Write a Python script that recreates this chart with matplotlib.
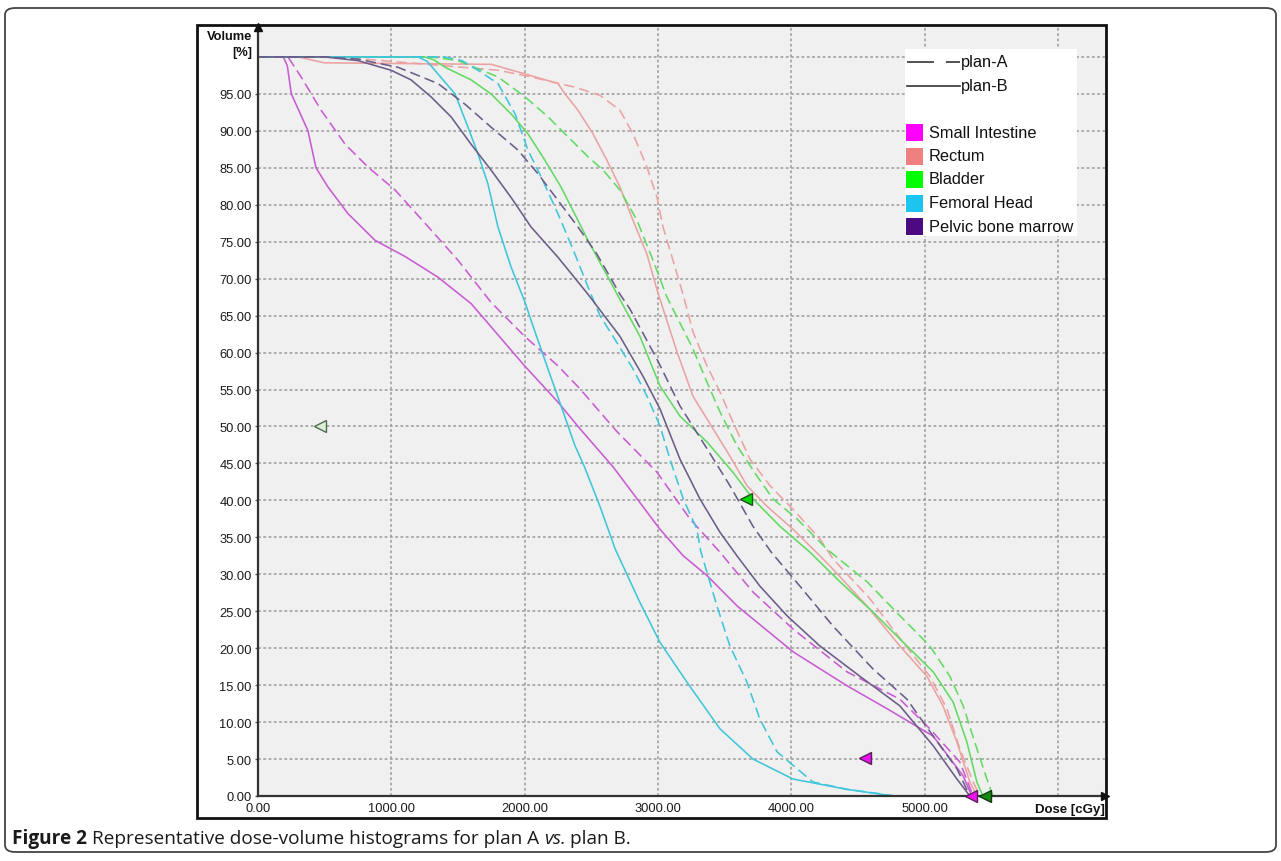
import matplotlib
matplotlib.use('Agg')
import matplotlib.pyplot as plt
from matplotlib.patches import Rectangle, FancyBboxPatch
from matplotlib.lines import Line2D

plt.rcParams['font.family'] = ['Liberation Sans', 'DejaVu Sans']
plt.rcParams['lines.scale_dashes'] = False

W, H = 1281, 862

# ---------------- data (dose in cGy, volume in %) ----------------
structures = ['Small Intestine', 'Rectum', 'Bladder', 'Femoral Head', 'Pelvic bone marrow']
legend_colors = ['#ff00ff', '#f08080', '#00ff00', '#1cc4f0', '#4b0a82']
line_colors = ['#c95bd3', '#eba2a2', '#62da62', '#3fc6da', '#6b5c88']
plan_names = ['plan-A', 'plan-B']

si_a_dose = [0, 225, 323, 473, 653, 825, 1028, 1253, 1500, 1748, 2000, 2250, 2415, 2693, 2993, 3240, 3465, 3713, 4013, 4418, 4815, 5040, 5265, 5365]
si_a_vol = [100, 100, 97.3, 92.8, 88.2, 85.1, 82.0, 77.5, 72.5, 66.8, 62.2, 58.2, 55.1, 49.3, 43.8, 37.5, 33.0, 27.6, 22.6, 16.8, 13.1, 9.1, 4.6, 0]
si_b_dose = [0, 190, 220, 250, 375, 435, 525, 675, 877, 1103, 1350, 1600, 2000, 2250, 2415, 2665, 3015, 3190, 3370, 3595, 4015, 4420, 4720, 5065, 5290, 5355]
si_b_vol = [100, 100, 98.8, 95.0, 90.0, 85.0, 82.4, 78.8, 75.2, 73.0, 70.2, 66.6, 58.2, 53.3, 49.7, 44.5, 36.1, 32.5, 29.8, 25.7, 19.5, 14.9, 11.8, 8.1, 2.7, 0]

re_a_dose = [0, 600, 1800, 2048, 2378, 2565, 2715, 2813, 2918, 2993, 3038, 3113, 3188, 3263, 3368, 3465, 3563, 3690, 3840, 4013, 4215, 4313, 4590, 4838, 5040, 5168, 5265, 5365, 5415]
re_a_vol = [100, 100, 98.2, 97.3, 95.9, 94.8, 92.8, 89.6, 85.1, 81.0, 77.0, 72.5, 67.9, 62.8, 58.2, 54.7, 50.6, 45.6, 42.0, 38.8, 34.8, 32.1, 26.7, 20.8, 16.2, 11.8, 6.4, 1.9, 0]
re_b_dose = [0, 300, 500, 1750, 2003, 2250, 2303, 2400, 2513, 2618, 2715, 2813, 2918, 2993, 3143, 3263, 3413, 3540, 3668, 3818, 4013, 4215, 4313, 4568, 4815, 5018, 5138, 5243, 5340, 5393]
re_b_vol = [100, 100, 99.2, 99.0, 97.7, 96.4, 95.0, 92.8, 89.6, 86.0, 82.4, 77.9, 73.3, 68.5, 60.1, 54.1, 49.7, 46.0, 42.0, 39.2, 36.1, 32.5, 30.7, 25.7, 20.3, 16.2, 12.2, 7.3, 1.9, 0]

bl_a_dose = [0, 1300, 1500, 1800, 2003, 2175, 2325, 2475, 2588, 2715, 2843, 2963, 3068, 3143, 3263, 3368, 3465, 3593, 3743, 3863, 4043, 4268, 4568, 4815, 5040, 5190, 5290, 5393, 5468, 5513]
bl_a_vol = [100, 100, 99.5, 97.3, 94.6, 91.9, 89.2, 86.5, 84.7, 82.0, 77.9, 72.5, 67.5, 64.8, 60.5, 56.0, 52.0, 47.4, 43.3, 40.2, 37.5, 33.4, 29.0, 24.4, 20.3, 16.2, 12.2, 6.4, 2.3, 0]
bl_b_dose = [0, 1250, 1320, 1403, 1598, 1748, 1898, 2025, 2153, 2273, 2400, 2475, 2715, 2865, 3015, 3165, 3368, 3563, 3713, 3915, 4140, 4365, 4613, 4868, 5065, 5215, 5318, 5393, 5438]
bl_b_vol = [100, 100, 99.6, 98.6, 96.9, 95.0, 92.3, 89.6, 86.0, 82.4, 77.9, 75.2, 67.2, 62.2, 55.5, 51.4, 47.9, 43.8, 40.2, 36.5, 33.0, 29.0, 24.9, 20.3, 16.8, 12.7, 7.3, 1.9, 0]

fh_a_dose = [0, 1400, 1530, 1650, 1800, 1928, 2025, 2123, 2250, 2378, 2475, 2565, 2663, 2813, 2918, 3015, 3090, 3190, 3293, 3320, 3443, 3540, 3668, 3765, 3893, 4043, 4163, 4418, 4666, 4780]
fh_a_vol = [100, 100, 99.5, 98.2, 96.4, 92.3, 87.4, 83.8, 78.8, 73.3, 68.9, 65.0, 62.2, 57.8, 54.1, 50.1, 45.6, 40.2, 36.1, 33.2, 25.7, 20.3, 15.4, 10.4, 6.0, 3.7, 1.9, 0.9, 0.3, 0]
fh_b_dose = [0, 1200, 1270, 1350, 1478, 1575, 1650, 1725, 1800, 1898, 2003, 2078, 2175, 2273, 2378, 2450, 2565, 2680, 2865, 3015, 3218, 3465, 3713, 4013, 4418, 4763]
fh_b_vol = [100, 100, 99.4, 97.7, 95.0, 90.5, 86.9, 82.8, 77.0, 71.6, 66.8, 62.8, 57.8, 52.8, 47.4, 44.5, 39.2, 33.4, 26.2, 20.8, 15.4, 9.1, 5.0, 2.3, 0.9, 0]

pb_a_dose = [0, 500, 750, 1050, 1350, 1553, 1748, 1950, 2100, 2250, 2400, 2543, 2715, 2790, 2993, 3165, 3368, 3540, 3713, 3850, 4065, 4313, 4613, 4868, 5065, 5243, 5340]
pb_a_vol = [100, 100, 99.7, 98.6, 96.4, 93.6, 90.5, 87.4, 84.2, 80.6, 77.0, 73.3, 67.9, 65.9, 59.1, 52.8, 47.0, 42.0, 36.5, 33.0, 28.4, 23.0, 17.2, 13.1, 8.1, 3.7, 0]
pb_b_dose = [0, 500, 750, 998, 1148, 1298, 1448, 1598, 1748, 1898, 2048, 2250, 2475, 2715, 2888, 3015, 3165, 3315, 3465, 3593, 3765, 3968, 4215, 4515, 4815, 5065, 5243, 5340]
pb_b_vol = [100, 100, 99.5, 98.2, 96.9, 94.6, 91.9, 88.2, 84.7, 81.0, 77.0, 72.9, 67.9, 62.2, 56.8, 52.4, 45.6, 40.2, 35.7, 32.5, 28.4, 24.4, 20.3, 16.2, 12.2, 6.8, 2.3, 0]

plan_a_curves = [(si_a_dose, si_a_vol), (re_a_dose, re_a_vol), (bl_a_dose, bl_a_vol), (fh_a_dose, fh_a_vol), (pb_a_dose, pb_a_vol)]
plan_b_curves = [(si_b_dose, si_b_vol), (re_b_dose, re_b_vol), (bl_b_dose, bl_b_vol), (fh_b_dose, fh_b_vol), (pb_b_dose, pb_b_vol)]

marker_dose = [465, 3660, 4553, 5350, 5455]
marker_vol = [50.0, 40.2, 5.1, 0.0, 0.0]
marker_face = ['#dcefd6', '#00d800', '#ee10ee', '#ee10ee', '#128c12']
marker_edge = ['#4f6a4f', '#1f4f1f', '#552255', '#552255', '#143814']

x_ticks = [0, 1000, 2000, 3000, 4000, 5000]
x_grid = [1000, 2000, 3000, 4000, 5000, 6000]
y_ticks = [0, 5, 10, 15, 20, 25, 30, 35, 40, 45, 50, 55, 60, 65, 70, 75, 80, 85, 90, 95]
y_grid = [5, 10, 15, 20, 25, 30, 35, 40, 45, 50, 55, 60, 65, 70, 75, 80, 85, 90, 95, 100]
x_max, y_max = 6354, 104.05

caption_parts = [('Figure 2', 'bold', 'normal'),
                 ('Representative dose-volume histograms for plan A', 'normal', 'normal'),
                 ('vs.', 'normal', 'italic'),
                 ('plan B.', 'normal', 'normal')]

# ---------------- figure ----------------
fig = plt.figure(figsize=(W / 100, H / 100), dpi=100)
fig.patch.set_facecolor('white')


def fx(px):
    return px / W


def fy(py):
    return 1 - py / H


# outer rounded box
fig.patches.append(FancyBboxPatch((fx(5), fy(853)), fx(1276) - fx(5), fy(9) - fy(853),
                                  boxstyle='round,pad=0,rounding_size=0.008',
                                  transform=fig.transFigure, facecolor='white',
                                  edgecolor='#444444', linewidth=1.3, zorder=-3))
# inner image frame
fig.patches.append(Rectangle((fx(197), fy(819)), fx(1106) - fx(197), fy(26) - fy(819),
                             transform=fig.transFigure, facecolor='white',
                             edgecolor='#111111', linewidth=2.0, zorder=-2))

ax = fig.add_axes([fx(258), fy(797), fx(1105) - fx(258), fy(28) - fy(797)])
ax.set_zorder(1)
ax.set_facecolor('#f0f0f0')
ax.set_xlim(0, x_max)
ax.set_ylim(0, y_max)

for s in ['top', 'right']:
    ax.spines[s].set_visible(False)
for s in ['left', 'bottom']:
    ax.spines[s].set_color('#333333')
    ax.spines[s].set_linewidth(1.6)
    ax.spines[s].set_zorder(5)

grid_kw = dict(color='#9a9a9a', linewidth=1.1, dashes=(2.0, 1.8), zorder=1)
for yv in y_grid:
    ax.axhline(yv, **grid_kw)
for xv in x_grid:
    ax.axvline(xv, **grid_kw)

ax.set_xticks(x_ticks)
ax.set_xticklabels(['%.2f' % v for v in x_ticks])
ax.set_yticks(y_ticks)
ax.set_yticklabels(['%.2f' % v for v in y_ticks])
ax.tick_params(axis='y', length=2.5, width=1, color='#555555', pad=2, labelsize=9.3, labelcolor='#1a1a1a')
ax.tick_params(axis='x', length=0, pad=4.5, labelsize=9.3, labelcolor='#1a1a1a')

# axis arrows
ax.plot([0], [1], marker='^', color='#111111', markersize=6, transform=ax.transAxes, clip_on=False, zorder=6)
ax.plot([1], [0], marker='>', color='#111111', markersize=6, transform=ax.transAxes, clip_on=False, zorder=6)

# curves
for i, name in enumerate(structures):
    d, v = plan_a_curves[i]
    ax.plot(d, v, color=line_colors[i], linewidth=1.15, dashes=(7.5, 3.6), zorder=3)
    d, v = plan_b_curves[i]
    ax.plot(d, v, color=line_colors[i], linewidth=1.15, zorder=3)

for xd, yd, fc, ec in zip(marker_dose, marker_vol, marker_face, marker_edge):
    ax.plot([xd], [yd], marker='<', markersize=9, markerfacecolor=fc, markeredgecolor=ec,
            markeredgewidth=1.0, linestyle='none', clip_on=False, zorder=7)

# axis titles
ax.text(-0.007, 0.988, 'Volume', transform=ax.transAxes, ha='right', va='center',
        fontsize=9.3, fontweight='bold', color='#111111')
ax.text(-0.007, (797 - 53) / 769, '[%]', transform=ax.transAxes, ha='right', va='center',
        fontsize=9.3, fontweight='bold', color='#111111')
ax.text(1.0, (797 - 810) / 769, 'Dose [cGy]', transform=ax.transAxes, ha='right', va='center',
        fontsize=9.5, fontweight='bold', color='#111111')

# legend (manual, white box)
fig.patches.append(Rectangle((fx(905), fy(237)), fx(1077) - fx(905), fy(50) - fy(237),
                             transform=fig.transFigure, facecolor='white', edgecolor='none', zorder=8))
plan_rows = [63, 87]
plan_dash = [(19.4, 8.6), None]
for name, row, dsh in zip(plan_names, plan_rows, plan_dash):
    ln = Line2D([fx(907), fx(960)], [fy(row), fy(row)], transform=fig.transFigure,
                color='#333333', linewidth=1.2, zorder=9)
    if dsh is not None:
        ln.set_dashes(dsh)
    fig.lines.append(ln)
    fig.text(fx(961), fy(row), name, ha='left', va='center', fontsize=11.8, color='#111111', zorder=9)

struct_rows = [133, 157, 180, 204, 227]
for name, col, row in zip(structures, legend_colors, struct_rows):
    fig.patches.append(Rectangle((fx(906), fy(row + 8.5)), fx(17), 17 / H, transform=fig.transFigure,
                                 facecolor=col, edgecolor='none', zorder=9))
    fig.text(fx(929), fy(row), name, ha='left', va='center', fontsize=11.8, color='#111111', zorder=9)

# caption
cap_size = 13.7
fig.canvas.draw()
r = fig.canvas.get_renderer()
tmp1 = fig.text(0, 0, 'a a', family='Open Sans', fontsize=cap_size)
tmp2 = fig.text(0, 0, 'aa', family='Open Sans', fontsize=cap_size)
space_w = tmp1.get_window_extent(r).width - tmp2.get_window_extent(r).width
tmp1.remove()
tmp2.remove()
xpos = 12
for txt, wt, st in caption_parts:
    t = fig.text(fx(xpos), fy(839), txt, family='Open Sans', fontsize=cap_size, fontweight=wt,
                 fontstyle=st, ha='left', va='center', color='#1a1a1a')
    bb = t.get_window_extent(r)
    xpos = bb.x1 + space_w

fig.savefig('out.png', dpi=100)
